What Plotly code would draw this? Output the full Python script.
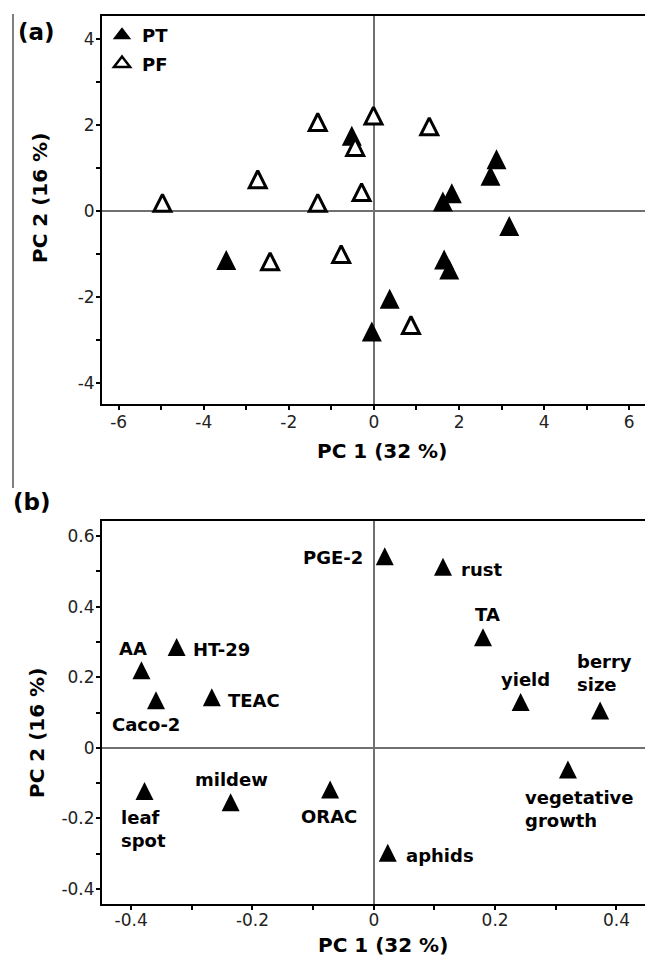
import plotly.graph_objects as go

# ---------------- Panel (a): PCA scores ----------------
pt_x = [-3.47, -0.52, 1.62, 1.83, 2.88, 2.74, 3.18, 1.65, 1.77, 0.37, -0.05]
pt_y = [-1.22, 1.67, 0.14, 0.33, 1.12, 0.74, -0.43, -1.21, -1.44, -2.12, -2.88]
pf_x = [-4.97, -2.73, -2.44, -1.32, -1.32, -0.77, -0.44, -0.29, -0.01, 1.30, 0.87]
pf_y = [0.12, 0.67, -1.24, 2.00, 0.12, -1.07, 1.42, 0.37, 2.15, 1.90, -2.72]

a_ticks = [-6, -4, -2, 0, 2, 4, 6]
a_ticktext = ["-6", "-4", "-2", "0", "2", "4", "6"]
a_minor = [-5, -3, -1, 1, 3, 5]
a_yticks = [-4, -2, 0, 2, 4]
a_yticktext = ["-4", "-2", "0", "2", "4"]
a_yminor = [-3, -1, 1, 3]

# ---------------- Panel (b): PCA loadings ----------------
var_names = ["PGE-2", "rust", "TA", "yield", "berry<br>size", "vegetative<br>growth",
             "aphids", "ORAC", "mildew", "leaf<br>spot", "AA", "HT-29", "Caco-2", "TEAC"]
load_x = [0.018, 0.114, 0.180, 0.242, 0.373, 0.320, 0.023, -0.072, -0.236, -0.378,
          -0.383, -0.325, -0.359, -0.267]
load_y = [0.535, 0.505, 0.305, 0.121, 0.097, -0.070, -0.306, -0.127, -0.163, -0.131,
          0.211, 0.277, 0.126, 0.135]

b_ticks = [-0.4, -0.2, 0, 0.2, 0.4]
b_ticktext = ["-0.4", "-0.2", "0", "0.2", "0.4"]
b_minor = [-0.3, -0.1, 0.1, 0.3]
b_yticks = [-0.4, -0.2, 0, 0.2, 0.4, 0.6]
b_yticktext = ["-0.4", "-0.2", "0", "0.2", "0.4", "0.6"]
b_yminor = [-0.3, -0.1, 0.1, 0.3, 0.5]

x_title = "PC 1 (32 %)"
y_title = "PC 2 (16 %)"

# label placement styles (anchor, shifts in px)
lab_style = {
    "PGE-2": ("right", "middle", -20, 2, "right"),
    "rust": ("left", "middle", 16, 0, "left"),
    "TA": ("center", "middle", 4, 26, "center"),
    "yield": ("center", "middle", 5, 26, "center"),
    "berry<br>size": ("left", "middle", -25, 41, "left"),
    "vegetative<br>growth": ("left", "middle", -45, -37, "left"),
    "aphids": ("left", "middle", 16, 0, "left"),
    "ORAC": ("center", "middle", -1, -24, "center"),
    "mildew": ("center", "middle", 1, 26, "center"),
    "leaf<br>spot": ("left", "middle", -25, -35, "left"),
    "AA": ("center", "middle", -8, 25, "center"),
    "HT-29": ("left", "middle", 14, 1, "left"),
    "Caco-2": ("center", "middle", -10, -21, "center"),
    "TEAC": ("left", "middle", 14, 0, "left"),
}

W, H = 645, 961
FONT = "DejaVu Sans"

def px_x(p):
    return p / W

def px_y(p):
    return 1 - p / H

fig = go.Figure()

def tri(size):
    # upward triangle centred on its centroid
    return dict(symbol="arrow-down", angle=180, size=size, standoff=size * 2 / 3)

fig.add_trace(go.Scatter(
    x=pt_x, y=pt_y, mode="markers", name="PT", xaxis="x", yaxis="y",
    marker=dict(color="black", line=dict(width=0), **tri(20)),
    showlegend=False,
))
fig.add_trace(go.Scatter(
    x=pf_x, y=pf_y, mode="markers", name="PF", xaxis="x", yaxis="y",
    marker=dict(color="white", line=dict(width=3, color="black"), **tri(17)),
    showlegend=False,
))
# legend entries
fig.add_trace(go.Scatter(
    x=[None], y=[None], mode="markers", name="PT", xaxis="x", yaxis="y",
    marker=dict(symbol="triangle-up", size=16, color="black", line=dict(width=0)),
    legendgroup="a",
))
fig.add_trace(go.Scatter(
    x=[None], y=[None], mode="markers", name="PF", xaxis="x", yaxis="y",
    marker=dict(symbol="triangle-up", size=14, color="white", line=dict(width=2.5, color="black")),
    legendgroup="b",
))
fig.add_trace(go.Scatter(
    x=load_x, y=load_y, mode="markers", name="loadings", xaxis="x2", yaxis="y2",
    marker=dict(color="black", line=dict(width=0), **tri(18)),
    showlegend=False,
))

axis_common = dict(
    showline=True, linecolor="black", linewidth=2, mirror=True,
    showgrid=False, zeroline=True, zerolinecolor="#707070", zerolinewidth=1.5,
    ticks="outside", ticklen=4, tickwidth=1.5, tickcolor="black",
    tickfont=dict(family=FONT, size=17, color="#222"),
    tickmode="array",
)
minor_common = dict(ticks="outside", ticklen=4, tickwidth=1.5, tickcolor="black", showgrid=False)

fig.update_layout(
    width=W, height=H,
    margin=dict(l=0, r=0, t=0, b=0),
    paper_bgcolor="white", plot_bgcolor="white",
    showlegend=True,
    legend=dict(x=px_x(102), y=px_y(17), xanchor="left", yanchor="top",
                font=dict(family=FONT, size=18, color="black", weight="bold"),
                bgcolor="rgba(0,0,0,0)", tracegroupgap=2, itemsizing="trace"),
    xaxis=dict(domain=[px_x(102), 1], range=[-6.39, 6.37], anchor="y",
               tickvals=a_ticks, ticktext=a_ticktext, ticklabelstandoff=-2,
               minor=dict(tickvals=a_minor, **minor_common), **axis_common),
    yaxis=dict(domain=[px_y(404), px_y(16)], range=[-4.49, 4.53], anchor="x",
               tickvals=a_yticks, ticktext=a_yticktext, ticklabelstandoff=-2,
               minor=dict(tickvals=a_yminor, **minor_common), **axis_common),
    xaxis2=dict(domain=[px_x(102), 1], range=[-0.448, 0.447], anchor="y2",
                tickvals=b_ticks, ticktext=b_ticktext, ticklabelstandoff=-5,
                minor=dict(tickvals=b_minor, **minor_common), **axis_common),
    yaxis2=dict(domain=[px_y(904.3), px_y(520.7)], range=[-0.444, 0.644], anchor="x2",
                tickvals=b_yticks, ticktext=b_yticktext, ticklabelstandoff=-2,
                minor=dict(tickvals=b_yminor, **minor_common), **axis_common),
)
# no right-hand frame line (cut off in the reference)
fig.update_yaxes(mirror=False)

anns = []
for name, x, y in zip(var_names, load_x, load_y):
    xa, ya, xs, ys, al = lab_style[name]
    anns.append(dict(x=x, y=y, xref="x2", yref="y2", text=name, showarrow=False,
                     xanchor=xa, yanchor=ya, xshift=xs, yshift=ys, align=al,
                     font=dict(family=FONT, size=18, color="black", weight="bold")))

title_font = dict(family=FONT, size=20, color="black", weight="bold")
anns += [
    dict(x=px_x(382), y=px_y(451), xref="paper", yref="paper", text=x_title,
         showarrow=False, xanchor="center", yanchor="middle", font=title_font),
    dict(x=px_x(40), y=px_y(198), xref="paper", yref="paper", text=y_title,
         showarrow=False, xanchor="center", yanchor="middle", textangle=-90, font=title_font),
    dict(x=px_x(383), y=px_y(945), xref="paper", yref="paper", text=x_title,
         showarrow=False, xanchor="center", yanchor="middle", font=title_font),
    dict(x=px_x(37), y=px_y(733), xref="paper", yref="paper", text=y_title,
         showarrow=False, xanchor="center", yanchor="middle", textangle=-90, font=title_font),
    dict(x=px_x(36), y=px_y(32), xref="paper", yref="paper", text="(a)",
         showarrow=False, xanchor="center", yanchor="middle",
         font=dict(family=FONT, size=23, color="black", weight="bold")),
    dict(x=px_x(32), y=px_y(502), xref="paper", yref="paper", text="(b)",
         showarrow=False, xanchor="center", yanchor="middle",
         font=dict(family=FONT, size=23, color="black", weight="bold")),
]
fig.update_layout(annotations=anns)

# thin page border line at far left
fig.add_shape(type="line", xref="paper", yref="paper",
              x0=px_x(13), x1=px_x(13), y0=px_y(14), y1=px_y(488),
              line=dict(color="#555", width=1.5))

fig.write_html("out.html", config={"displayModeBar": False},
               post_script="document.body.style.margin='0';")
